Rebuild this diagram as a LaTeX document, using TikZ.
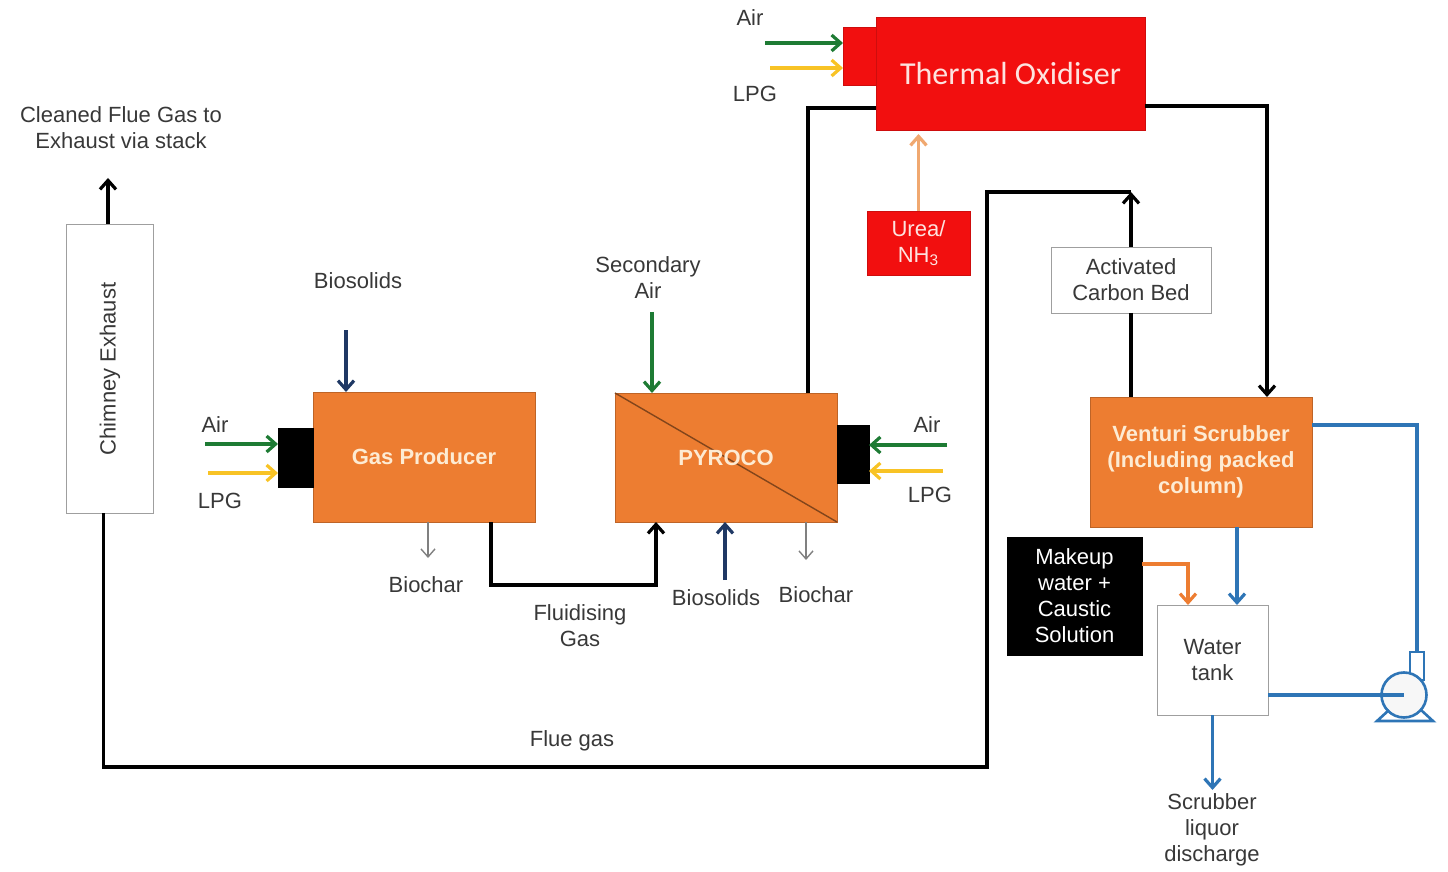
\documentclass[tikz,border=0pt]{standalone}
\usepackage{fontspec}
\setmainfont{Liberation Sans}
\newfontfamily\calibrifont{Carlito}
\usetikzlibrary{positioning,arrows.meta}
\definecolor{unitorange}{HTML}{ED7D31}
\definecolor{oxred}{HTML}{F20F0F}
\definecolor{boxtext}{HTML}{FDEBD3}
\definecolor{redtext}{HTML}{FDE3DF}
\definecolor{labelgray}{HTML}{383838}
\definecolor{airgreen}{HTML}{1E7B34}
\definecolor{lpgyellow}{HTML}{F8C325}
\definecolor{feedblue}{HTML}{1F3864}
\definecolor{waterblue}{HTML}{2E75B6}
\definecolor{ureaorange}{HTML}{F0A870}
\tikzset{
  flowarrow/.style={-{Straight Barb[length=4.5pt,width=8pt]}, line width=1.6pt},
  gasline/.style={line width=1.6pt},
  airarrow/.style={flowarrow, draw=airgreen},
  lpgarrow/.style={flowarrow, draw=lpgyellow},
  feedarrow/.style={flowarrow, draw=feedblue},
  ureaarrow/.style={flowarrow, draw=ureaorange},
  makeuparrow/.style={flowarrow, draw=unitorange},
  chararrow/.style={-{Straight Barb[length=4pt,width=7pt]}, line width=0.7pt, draw=gray},
  waterline/.style={line width=1.6pt, draw=waterblue},
  waterarrow/.style={waterline, -{Straight Barb[length=4.5pt,width=8pt]}},
  unitbox/.style={draw=unitorange!80!black, fill=unitorange, text=boxtext, font=\labelfont\bfseries, inner sep=0pt, outer sep=0pt, align=center},
  redbox/.style={draw=oxred!85!black, fill=oxred, text=redtext, inner sep=0pt, outer sep=0pt, align=center},
  plainbox/.style={draw=gray!75, fill=white, inner sep=0pt, outer sep=0pt, align=center},
  blackbox/.style={draw=black, fill=black, text=white, inner sep=0pt, outer sep=0pt, align=center},
  burner/.style={draw=black, fill=black, inner sep=0pt, outer sep=0pt}
}
\newcommand{\labelfont}{\fontsize{11}{13}\selectfont}

\begin{document}
\begin{tikzpicture}[x=0.5pt, y=-0.5pt, every node/.style={font=\labelfont, text=labelgray}]
  \useasboundingbox (0,0) rectangle (1448,872);

  % units
  \node[plainbox, minimum width=43.5pt, minimum height=144.5pt] (chimney) at (109.5,368.5) {};
  \node[rotate=90] (chimneytxt) at (110,369) {Chimney Exhaust};
  \node[unitbox, minimum width=111pt, minimum height=65pt] (gasprod) at (424,457) {Gas Producer};
  \node[burner, minimum width=17.5pt, minimum height=29.5pt] (gpburn) at (295.5,457.5) {};
  \node[unitbox, minimum width=111pt, minimum height=64.5pt] (pyroco) at (726,457.5) {};
  \draw[draw=unitorange!55!black, line width=0.7pt] (pyroco.north west) -- (pyroco.south east);
  \node[text=boxtext, font=\labelfont\bfseries] (pyrocotxt) at (pyroco) {PYROCO};
  \node[burner, minimum width=16pt, minimum height=29pt] (pyburn) at (853,454) {};
  \node[redbox, minimum width=16.5pt, minimum height=29pt] (toburn) at (859.5,56) {};
  \node[redbox, minimum width=134.5pt, minimum height=56.5pt, font=\calibrifont\fontsize{16}{18}\selectfont] (thermox) at (1010.5,73.5) {Thermal Oxidiser};
  \node[redbox, minimum width=51.5pt, minimum height=32pt] (urea) at (918.5,243) {Urea/\\NH\textsubscript{3}};
  \node[plainbox, minimum width=80pt, minimum height=33pt] (carbon) at (1131,280) {Activated\\Carbon Bed};
  \node[unitbox, minimum width=111pt, minimum height=65pt] (venturi) at (1201,462) {Venturi Scrubber\\(Including packed\\column)};
  \node[plainbox, minimum width=55.5pt, minimum height=55pt] (tank) at (1212.5,660) {Water\\tank};
  \node[blackbox, minimum width=67.5pt, minimum height=59pt] (makeup) at (1074.5,596) {Makeup\\water +\\Caustic\\Solution};

  % pump
  \node[draw=waterblue, line width=1.3pt, fill=white, minimum width=7pt, minimum height=14pt, inner sep=0pt] (pumpnozzle) at (1417,666) {};
  \node[circle, draw=waterblue, line width=1.3pt, fill=gray!6, minimum size=22.5pt, inner sep=0pt] (pump) at (1404,695) {};
  \draw[waterline, line width=1.3pt] (1389,710) -- (1377,721) -- (1433,721) -- (1421,710);

  % labels
  \node[align=center] (cleaned) at (121,128) {Cleaned Flue Gas to\\Exhaust via stack};
  \node (gpbio) at (358,281) {Biosolids};
  \node (gpchar) at (426,585) {Biochar};
  \node (gpair) at (215,425) {Air};
  \node (gplpg) at (220,501) {LPG};
  \node[align=center] (fluid) at (580,626) {Fluidising\\Gas};
  \node[align=center] (secair) at (648,278) {Secondary\\Air};
  \node (pybio) at (716,598) {Biosolids};
  \node (pychar) at (816,595) {Biochar};
  \node (pyair) at (927,425) {Air};
  \node (pylpg) at (930,495) {LPG};
  \node (toair) at (750,18) {Air};
  \node (tolpg) at (755,94) {LPG};
  \node (fluegas) at (572,741) {Flue gas};
  \node[align=center] (liquor) at (1212,830) {Scrubber\\liquor\\discharge};

  % burner feeds
  \draw[airarrow] ([xshift=-36.5pt,yshift=6.75pt]gpburn.west) -- ([yshift=6.75pt]gpburn.west);
  \draw[lpgarrow] ([xshift=-35pt,yshift=-7.75pt]gpburn.west) -- ([yshift=-7.75pt]gpburn.west);
  \draw[airarrow] ([xshift=39pt,yshift=4.5pt]pyburn.east) -- ([yshift=4.5pt]pyburn.east);
  \draw[lpgarrow] ([xshift=37pt,yshift=-8.5pt]pyburn.east) -- ([yshift=-8.5pt]pyburn.east);
  \draw[airarrow] ([xshift=-39pt,yshift=6.5pt]toburn.west) -- ([yshift=6.5pt]toburn.west);
  \draw[lpgarrow] ([xshift=-36.5pt,yshift=-6pt]toburn.west) -- ([yshift=-6pt]toburn.west);

  % solids in and out
  \draw[feedarrow] ([xshift=-39pt,yshift=31pt]gasprod.north) -- ([xshift=-39pt]gasprod.north);
  \draw[chararrow] ([xshift=2pt]gasprod.south) -- ++(0,36);
  \draw[airarrow] ([xshift=-37pt,yshift=40.5pt]pyroco.north) -- ([xshift=-37pt]pyroco.north);
  \draw[feedarrow] ([xshift=-0.5pt,yshift=-29pt]pyroco.south) -- ([xshift=-0.5pt]pyroco.south);
  \draw[chararrow] ([xshift=40pt]pyroco.south) -- ++(0,38);

  % gas path
  \draw[flowarrow] ([xshift=33.5pt]gasprod.south) -- ++(0,63) -| ([xshift=-35pt]pyroco.south);
  \draw[gasline] ([xshift=41pt]pyroco.north) |- ([yshift=-17.25pt]thermox.west);
  \draw[ureaarrow, shorten >=2pt] (urea.north) -- (urea.north |- thermox.south);
  \draw[flowarrow] ([yshift=-16.25pt]thermox.east) -| ([xshift=33pt]venturi.north);
  \draw[gasline] (carbon.south) -- (carbon.south |- venturi.north);
  \coordinate (fluecorner) at (1131,192);
  \draw[flowarrow] (carbon.north) -- (fluecorner);
  \draw[gasline] (fluecorner) -- (987,192) -- (987,767) -| ([xshift=-3pt]chimney.south);
  \draw[flowarrow] ([xshift=-0.75pt]chimney.north) -- ++(0,-46);

  % scrubber water
  \draw[waterarrow] ([xshift=18pt]venturi.south) -- ([xshift=12.25pt]tank.north);
  \draw[makeuparrow] ([yshift=16pt]makeup.east) -| ([xshift=-12.25pt]tank.north);
  \draw[waterarrow] (tank.south) -- ++(0,75);
  \draw[waterline] ([yshift=18.5pt]venturi.east) -| (pumpnozzle.north);
  \draw[waterline] ([yshift=-17.5pt]tank.east) -- (pump.center);
\end{tikzpicture}
\end{document}
